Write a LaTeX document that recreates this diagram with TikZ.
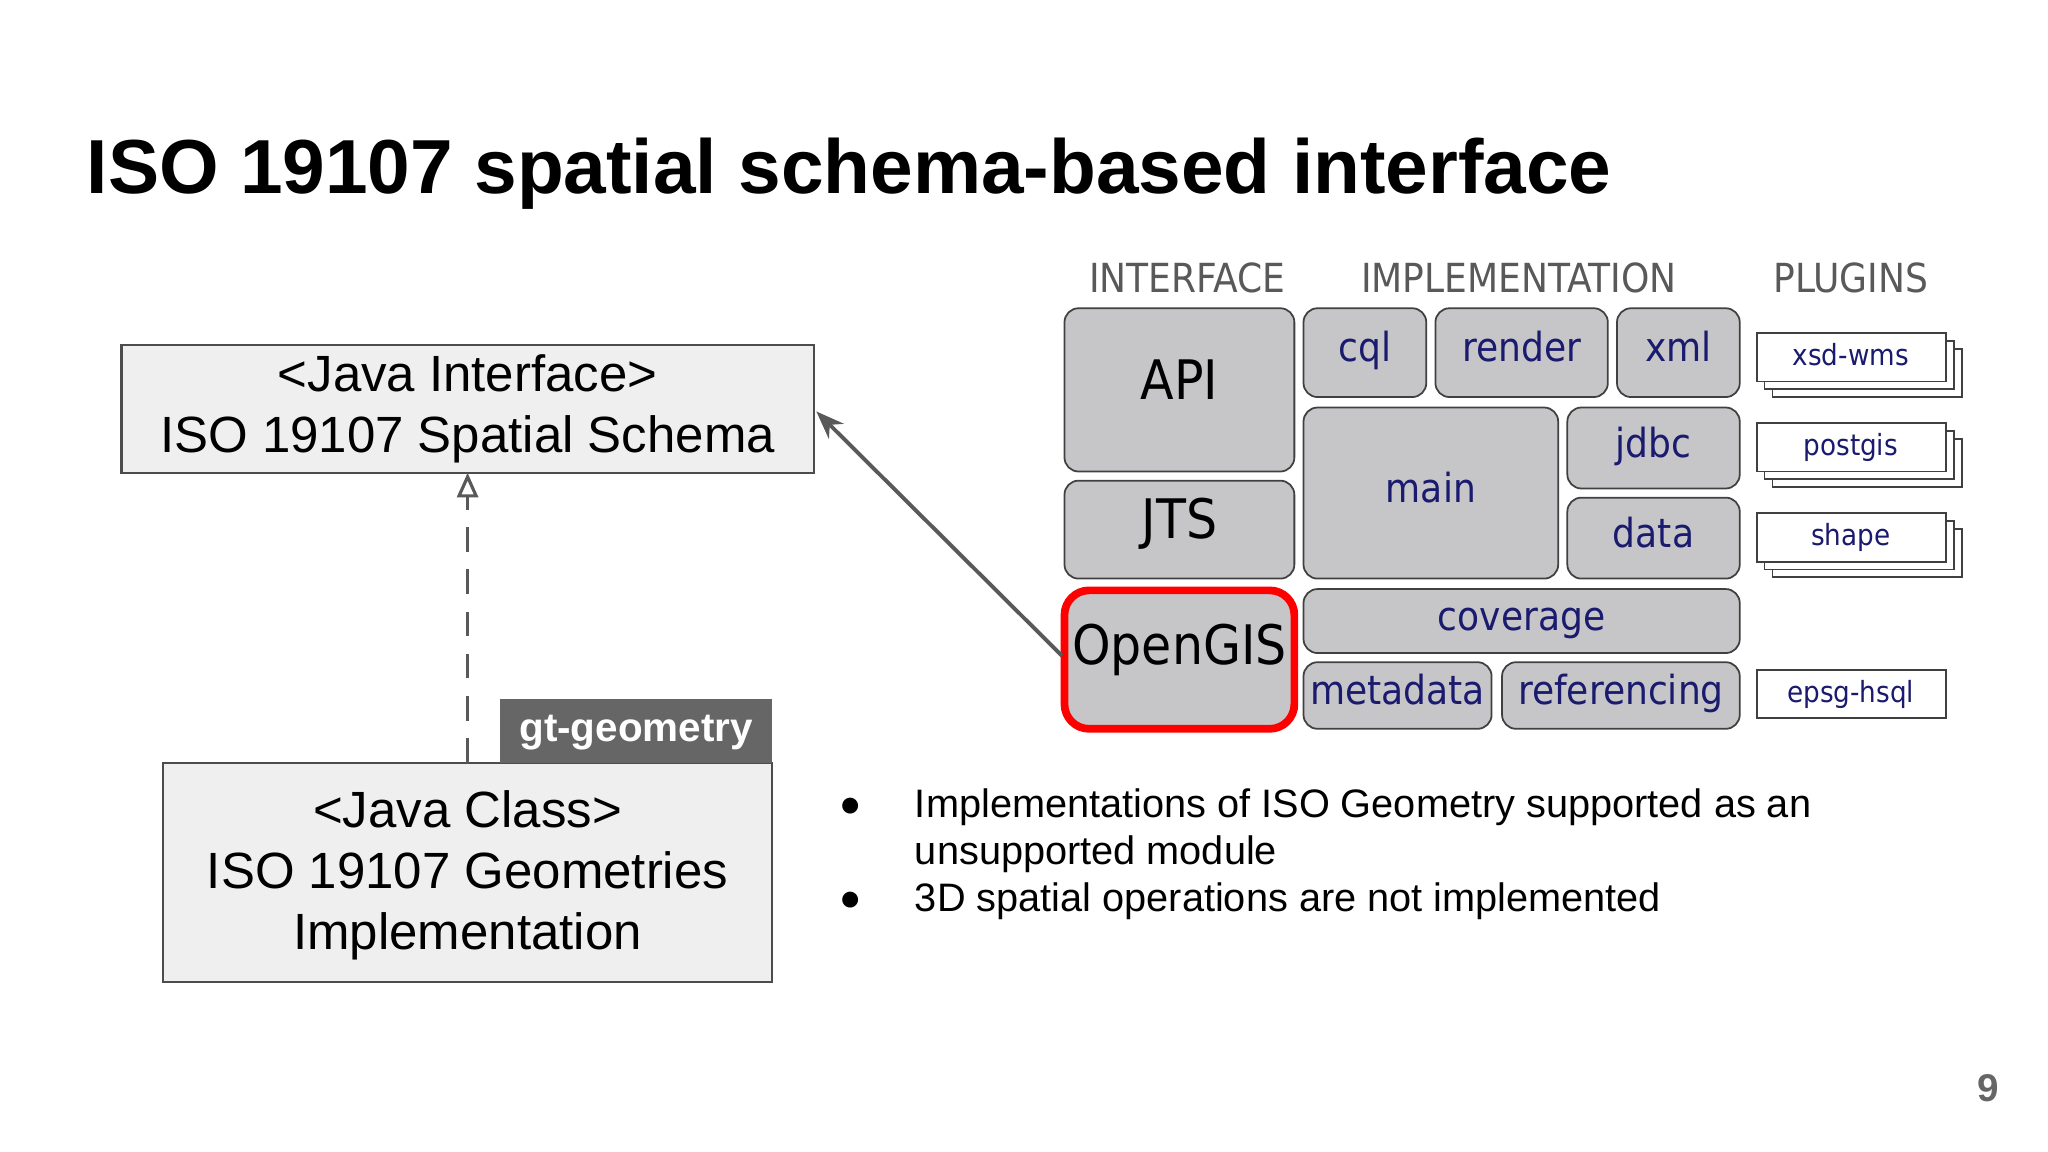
\documentclass[tikz,border=0pt]{standalone}
\usepackage{fontspec}
\setmainfont{Liberation Sans}
\newfontfamily\dvs{DejaVu Sans Condensed}
\usetikzlibrary{arrows.meta}
\definecolor{mod}{HTML}{C6C6C8}
\definecolor{navy}{HTML}{1A1A6E}
\definecolor{boxf}{HTML}{EFEFEF}
\begin{document}
\begin{tikzpicture}[x=0.01306cm,y=-0.01306cm,
  jbox/.style={draw=black!70,fill=boxf,line width=0.6pt,align=center,inner sep=0pt,font=\fontsize{14.5}{17.4}\selectfont},
  m/.style={draw=black!75,fill=mod,rounded corners=4pt,line width=0.5pt,inner sep=0pt,text=navy,text height=0.72em,text depth=0.2em,font=\dvs\fontsize{11.4}{13}\selectfont},
  mi/.style={m,text=black,font=\dvs\fontsize{15.5}{18}\selectfont},
  pl/.style={draw=black!75,fill=white,line width=0.5pt,inner sep=0pt,text=navy,text height=0.72em,text depth=0.2em,font=\dvs\fontsize{8.3}{9}\selectfont},
  hd/.style={text=black!65,font=\dvs\fontsize{11.4}{12}\selectfont}]
\useasboundingbox (0,0) rectangle (1568,882);
\node[anchor=base west,inner sep=0pt,font=\bfseries\fontsize{21.8}{27}\selectfont] (title) at (66,148) {ISO 19107 spatial schema-based interface};
% left boxes
\path[jbox] (93,264) rectangle (623,362);
\node[jbox,draw=none,fill=none] (iface) at (358,313) {<Java Interface>\\ISO 19107 Spatial Schema};
\coordinate (ifb) at (358,362); \coordinate (ifr) at (625,315);
\path[jbox] (125,584) rectangle (591,752);
\node[jbox,draw=none,fill=none] (impl) at (358,670) {<Java Class>\\ISO 19107 Geometries\\Implementation};
\coordinate (imt) at (358,584);
\fill[black!60] (383,535) rectangle (591,584);
\node[text=white,font=\bfseries\fontsize{11.5}{13}\selectfont] (tag) at (487,561) {gt-geometry};
\draw[dashed,dash pattern=on 7pt off 5pt,black!65,line width=0.9pt,-{Triangle[open,length=7pt,width=6pt]}] (imt) -- (ifb);
% headers
\node[hd] (h1) at (909,213) {INTERFACE};
\node[hd] (h2) at (1163,213) {IMPLEMENTATION};
\node[hd] (h3) at (1417,213) {PLUGINS};
% modules
\newcommand{\modbox}[6]{\path[#1] (#2,#3) rectangle (#4,#5); \node[#1,draw=none,fill=none] at ({(#2+#4)/2},{(#3+#5)/2}) {#6};}
\modbox{mi}{815}{236}{991}{361}{API}
\modbox{mi}{815}{368}{991}{443}{JTS}
\path[m,draw=red,line width=2.2pt,rounded corners=7pt] (815,452) rectangle (991,558);
\node[mi,draw=none,fill=none] (ogis) at (903,502) {OpenGIS};
\coordinate (ogl) at (813,502);
\modbox{m}{998}{236}{1092}{304}{cql}
\modbox{m}{1099}{236}{1231}{304}{render}
\modbox{m}{1238}{236}{1332}{304}{xml}
\modbox{m}{998}{312}{1193}{443}{main}
\modbox{m}{1200}{312}{1332}{374}{jdbc}
\modbox{m}{1200}{381}{1332}{443}{data}
\modbox{m}{998}{451}{1332}{500}{coverage}
\modbox{m}{998}{507}{1142}{558}{metadata}
\modbox{m}{1150}{507}{1332}{558}{referencing}
% plugins
\foreach \y/\t in {255/xsd-wms,324/postgis,393/shape}{
  \draw[pl] (1357,{\y+12}) rectangle (1502,{\y+49});
  \draw[pl] (1351,{\y+6}) rectangle (1496,{\y+43});
  \draw[pl] (1345,\y) rectangle (1490,{\y+37});
  \node[pl,draw=none,fill=none] at (1417,{\y+18}) {\t};
}
\draw[pl] (1345,513) rectangle (1490,550);
\node[pl,draw=none,fill=none] (epsg) at (1417,531) {epsg-hsql};
\draw[black!65,line width=1.1pt,-{Stealth[length=8pt,width=6pt]}] (ogl) -- (ifr);
% bullets
\foreach \y/\t in {618/Implementations of ISO Geometry supported as an,654/unsupported module,690/3D spatial operations are not implemented}{
  \node[anchor=west,inner sep=0pt,font=\fontsize{11.3}{12}\selectfont] at (700,\y) {\t};}
\node[font=\fontsize{10.5}{12}\selectfont] (b1) at (651,618) {●};
\node[font=\fontsize{10.5}{12}\selectfont] (b2) at (651,690) {●};
\node[text=black!60,font=\bfseries\fontsize{11}{13}\selectfont] (pg) at (1522,833) {9};
\end{tikzpicture}
\end{document}
